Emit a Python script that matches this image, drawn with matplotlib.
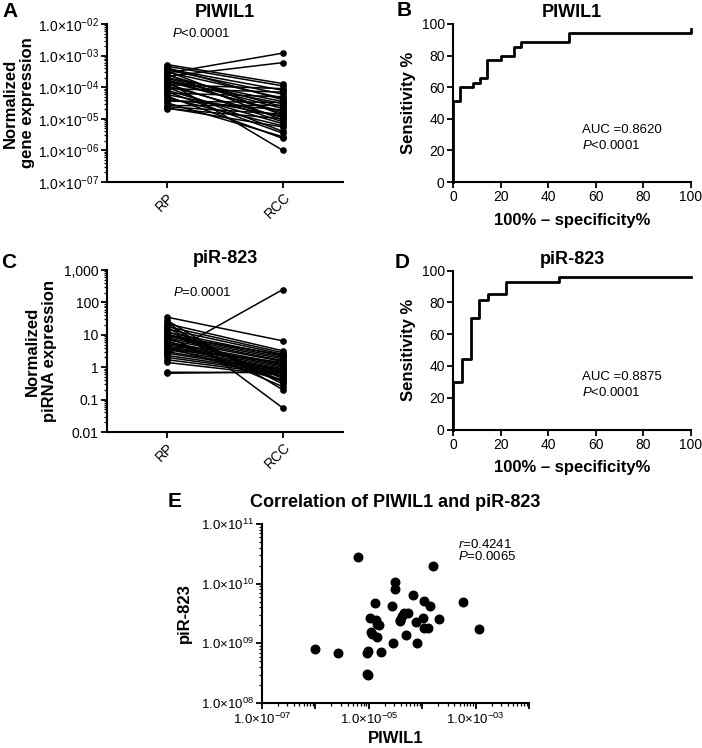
import numpy as np
import matplotlib.pyplot as plt
from matplotlib.ticker import FuncFormatter, LogLocator, NullFormatter, FixedLocator

plt.rcParams['font.family'] = ['Liberation Sans', 'DejaVu Sans']
plt.rcParams['mathtext.fontset'] = 'custom'
plt.rcParams['mathtext.rm'] = 'Liberation Sans'
plt.rcParams['mathtext.it'] = 'Liberation Sans:italic'
plt.rcParams['mathtext.bf'] = 'Liberation Sans:bold'

# datos
groups = ['RP', 'RCC']

piwil1_rp = [2.8e-4, 2.2e-4, 5.2e-4, 4.6e-4, 1.2e-4, 3.8e-4, 9.0e-5, 3.5e-4, 6.5e-5,
             3.0e-4, 4.1e-4, 2.0e-4, 1.6e-4, 2.6e-5, 2.4e-4, 1.9e-4, 4.0e-5, 1.5e-4,
             1.7e-4, 3.2e-4, 5.8e-5, 1.1e-4, 2.1e-5, 2.6e-4, 1.3e-4, 8.0e-5, 4.6e-5,
             2.2e-5, 1.0e-4, 7.2e-5, 3.2e-5, 5.2e-5, 1.5e-4, 2.4e-5, 3.6e-5]
piwil1_rcc = [1.2e-3, 6.0e-4, 1.3e-4, 1.1e-4, 9.0e-5, 8.0e-5, 7.0e-5, 6.0e-5, 5.0e-5,
              4.5e-5, 4.0e-5, 3.5e-5, 3.0e-5, 2.7e-5, 2.4e-5, 2.1e-5, 1.9e-5, 1.7e-5,
              1.5e-5, 1.3e-5, 1.2e-5, 1.1e-5, 1.0e-5, 9.0e-6, 8.0e-6, 7.0e-6, 6.0e-6,
              5.5e-6, 4.0e-6, 3.5e-6, 2.7e-6, 2.4e-6, 1.0e-6, 1.4e-5, 3.3e-5]

pir823_rp = [2.5, 35, 22, 18, 15, 12, 10, 9, 8, 7, 6, 5.5, 5, 4.5, 4, 3.5, 3, 2.7,
             2.3, 2, 1.7, 1.4, 0.65, 0.7, 28, 13, 11, 6.5, 16, 20, 8.5, 3.8, 25, 9.5, 4.2]
pir823_rcc = [250, 6.5, 3.2, 2.8, 2.5, 2.2, 2.0, 1.8, 1.6, 1.5, 1.3, 1.2, 1.1, 1.0, 0.9,
              0.85, 0.8, 0.75, 0.7, 0.65, 0.6, 0.55, 0.72, 0.68, 0.2, 0.45, 0.5, 0.4,
              0.35, 0.3, 0.25, 1.4, 0.055, 2.4, 0.38]

roc_piwil1_x = [0, 0, 2.86, 8.57, 11.43, 14.29, 20.0, 25.71, 28.57, 48.57, 100, 100]
roc_piwil1_y = [0, 51.43, 60.0, 62.86, 65.71, 77.14, 80.0, 85.71, 88.57, 94.29, 94.29, 97.14]

roc_pir823_x = [0, 0, 3.70, 7.41, 11.11, 14.81, 22.22, 44.44, 100]
roc_pir823_y = [0, 29.63, 44.44, 70.37, 81.48, 85.19, 92.59, 96.30, 96.30]

corr_piwil1 = [6.2e-6, 1.6e-4, 3.1e-5, 3.1e-5, 6.6e-5, 1.1e-4, 1.4e-4, 5.8e-4, 1.3e-5,
               2.7e-5, 1.05e-5, 1.35e-5, 1.55e-5, 1.45e-5, 1.1e-5, 1.15e-5, 1.4e-5,
               3.9e-5, 4.5e-5, 5.4e-5, 3.8e-5, 4.2e-5, 7.6e-5, 1.05e-4, 2.1e-4, 1.1e-4,
               1.3e-4, 1.17e-3, 4.9e-5, 2.9e-5, 7.9e-5, 9.8e-7, 2.7e-6, 9.5e-6, 9.3e-6,
               1.66e-5, 9.8e-6, 9.3e-6]
corr_pir823 = [2.8e10, 2.0e10, 1.07e10, 8.1e9, 6.5e9, 5.1e9, 4.3e9, 4.9e9, 4.7e9,
               4.2e9, 2.7e9, 2.45e9, 2.0e9, 2.1e9, 1.55e9, 1.45e9, 1.3e9,
               2.5e9, 3.2e9, 3.2e9, 2.4e9, 2.9e9, 2.3e9, 2.7e9, 2.6e9, 1.8e9,
               1.8e9, 1.75e9, 1.4e9, 1.02e9, 1.0e9, 8.1e8, 6.9e8, 7.4e8, 6.9e8,
               7.1e8, 2.95e8, 3.05e8]

W, H = 702, 748
fig = plt.figure(figsize=(W / 100, H / 100), dpi=100)

TICK = 10
ANOT = 9.5
LAB = 12
TIT = 13


def caja(l, t, r, b):
    return [l / W, 1 - b / H, (r - l) / W, (b - t) / H]


def estilo(ax):
    for s in ['top', 'right']:
        ax.spines[s].set_visible(False)
    for s in ['left', 'bottom']:
        ax.spines[s].set_linewidth(1.5)
    ax.tick_params(which='major', direction='out', length=4, width=1.3, labelsize=TICK, pad=2)
    ax.tick_params(which='minor', direction='out', length=2, width=0.9)


def pot(v, pos):
    e = int(round(np.log10(v)))
    if e < 0:
        return '1.0×10$^{-%02d}$' % abs(e)
    return '1.0×10$^{%02d}$' % e


def menores(eje):
    eje.set_minor_locator(LogLocator(base=10, subs=np.arange(2, 10), numticks=50))
    eje.set_minor_formatter(NullFormatter())


def pareado(ax, rp, rcc, ylim):
    for a, b in zip(rp, rcc):
        ax.plot([0, 1], [a, b], '-o', color='black', lw=1.1, ms=3.8, clip_on=False)
    ax.set_yscale('log')
    ax.set_ylim(*ylim)
    ax.set_xlim(-0.52, 1.52)
    ax.set_xticks([0, 1])
    ax.set_xticklabels(groups, rotation=45, ha='right', rotation_mode='anchor')
    exps = range(int(round(np.log10(ylim[0]))), int(round(np.log10(ylim[1]))) + 1)
    ax.yaxis.set_major_locator(FixedLocator([10.0 ** e for e in exps]))
    menores(ax.yaxis)
    estilo(ax)


def roc(ax, x, y, titulo, auc):
    ax.plot(x, y, color='black', lw=2, drawstyle='steps-post', clip_on=False)
    ax.set_xlim(0, 100)
    ax.set_ylim(0, 100)
    ax.set_xticks(range(0, 101, 20))
    ax.set_yticks(range(0, 101, 20))
    ax.set_xlabel('100% – specificity%', fontsize=LAB, fontweight='bold', labelpad=6)
    ax.set_ylabel('Sensitivity %', fontsize=LAB, fontweight='bold', labelpad=4)
    ax.set_title(titulo, fontsize=TIT, fontweight='bold', pad=5)
    ax.text(0.542, 0.33, 'AUC =' + auc, transform=ax.transAxes, fontsize=ANOT, va='center')
    ax.text(0.542, 0.23, r'$\mathit{P}$<0.0001', transform=ax.transAxes, fontsize=ANOT, va='center')
    estilo(ax)


# A
axA = fig.add_axes(caja(107, 24, 343, 182))
pareado(axA, piwil1_rp, piwil1_rcc, (1e-7, 1e-2))
axA.yaxis.set_major_formatter(FuncFormatter(pot))
axA.set_ylabel('Normalized\ngene expression', fontsize=LAB, fontweight='bold', labelpad=2)
axA.set_title('PIWIL1', fontsize=TIT, fontweight='bold', pad=5)
axA.text(0.275, 0.943, r'$\mathit{P}$<0.0001', transform=axA.transAxes, fontsize=ANOT, va='center')

# B
axB = fig.add_axes(caja(453, 24, 691, 182))
roc(axB, roc_piwil1_x, roc_piwil1_y, 'PIWIL1', '0.8620')

# C
axC = fig.add_axes(caja(107, 270, 343, 432))
pareado(axC, pir823_rp, pir823_rcc, (0.01, 1000))
etiq_c = {-2: '0.01', -1: '0.1', 0: '1', 1: '10', 2: '100', 3: '1,000'}
axC.yaxis.set_major_formatter(FuncFormatter(lambda v, p: etiq_c.get(int(round(np.log10(v))), '')))
axC.set_ylabel('Normalized\npiRNA expression', fontsize=LAB, fontweight='bold', labelpad=5)
axC.set_title('piR-823', fontsize=TIT, fontweight='bold', pad=5)
axC.text(0.28, 0.864, r'$\mathit{P}$=0.0001', transform=axC.transAxes, fontsize=ANOT, va='center')

# D
axD = fig.add_axes(caja(453, 270.7, 691, 429.5))
roc(axD, roc_pir823_x, roc_pir823_y, 'piR-823', '0.8875')

# E
axE = fig.add_axes(caja(262, 524, 529, 703))
axE.scatter(corr_piwil1, corr_pir823, s=38, color='black', zorder=3, clip_on=False)
axE.set_xscale('log')
axE.set_yscale('log')
axE.set_xlim(1e-7, 1e-2)
axE.set_ylim(1e8, 1e11)
axE.xaxis.set_major_locator(FixedLocator([1e-7, 1e-6, 1e-5, 1e-4, 1e-3, 1e-2]))
axE.xaxis.set_major_formatter(FuncFormatter(
    lambda v, p: pot(v, p) if int(round(np.log10(v))) % 2 else ''))
axE.yaxis.set_major_locator(FixedLocator([1e8, 1e9, 1e10, 1e11]))
axE.yaxis.set_major_formatter(FuncFormatter(pot))
menores(axE.xaxis)
menores(axE.yaxis)
estilo(axE)
axE.tick_params(which='major', labelsize=9.5)
axE.set_xlabel('PIWIL1', fontsize=LAB, fontweight='bold', labelpad=3)
axE.set_ylabel('piR-823', fontsize=LAB, fontweight='bold', labelpad=6)
axE.set_title('Correlation of PIWIL1 and piR-823', fontsize=TIT, fontweight='bold', pad=12)
axE.text(0.734, 0.883, r'$\mathit{r}$=0.4241', transform=axE.transAxes, fontsize=ANOT, va='center')
axE.text(0.734, 0.816, r'$\mathit{P}$=0.0065', transform=axE.transAxes, fontsize=ANOT, va='center')

# letras de panel
for letra, px, py in [('A', 2, 2), ('B', 397, 1), ('C', 1, 253), ('D', 395, 253), ('E', 168, 492)]:
    fig.text(px / W, 1 - py / H, letra, fontsize=15, fontweight='bold', va='top', ha='left')

plt.savefig('out.png', dpi=100)
